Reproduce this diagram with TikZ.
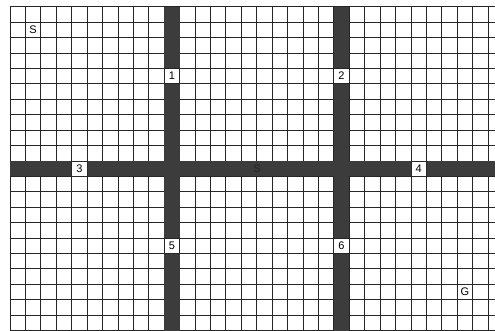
\documentclass[tikz,border=0pt]{standalone}
\usepackage{fontspec}
\setmainfont{Liberation Sans}
\definecolor{barcol}{HTML}{3C3C3C}
\definecolor{gridcol}{HTML}{262626}
\tikzset{
  gridline/.style={draw=gridcol, line width=0.8pt},
  bar/.style={fill=barcol},
  labelcell/.style={draw=gridcol, line width=0.8pt, fill=white, minimum size=15.42pt, inner sep=0pt, font=\fontsize{11}{11}\selectfont},
  plainlabel/.style={inner sep=0pt, font=\fontsize{11}{11}\selectfont},
}
\begin{document}
\begin{tikzpicture}[x=1pt,y=-1pt]
\useasboundingbox (0,0) rectangle (495,330);
\fill[white] (0,0) rectangle (495,330);
\clip (0,0) rectangle (495,330);
\def\s{15.42}
\def\ox{10}
\def\oy{6.7}
% grid
\foreach \i in {0,...,32} \draw[gridline] ({\ox+\i*\s},\oy) -- ({\ox+\i*\s},340);
\foreach \j in {0,...,21} \draw[gridline] (\ox,{\oy+\j*\s}) -- (505,{\oy+\j*\s});
% corridors
\fill[bar] ({\ox+10*\s},\oy) rectangle ({\ox+11*\s},340);
\fill[bar] ({\ox+21*\s},\oy) rectangle ({\ox+22*\s},340);
\fill[bar] (\ox,{\oy+10*\s}) rectangle (505,{\oy+11*\s});
% labels
\node[plainlabel] (start) at ({\ox+1.5*\s},{\oy+1.5*\s}) {S};
\node[labelcell] (n1) at ({\ox+10.5*\s},{\oy+4.5*\s}) {1};
\node[labelcell] (n2) at ({\ox+21.5*\s},{\oy+4.5*\s}) {2};
\node[labelcell] (n3) at ({\ox+4.5*\s},{\oy+10.5*\s}) {3};
\node[labelcell] (n4) at ({\ox+26.5*\s},{\oy+10.5*\s}) {4};
\node[labelcell] (n5) at ({\ox+10.5*\s},{\oy+15.5*\s}) {5};
\node[labelcell] (n6) at ({\ox+21.5*\s},{\oy+15.5*\s}) {6};
\node[plainlabel, text=black!85] (mid) at (257,{\oy+10.5*\s}) {S};
\node[plainlabel] (goal) at ({\ox+29.5*\s},{\oy+18.5*\s}) {G};
\end{tikzpicture}
\end{document}
